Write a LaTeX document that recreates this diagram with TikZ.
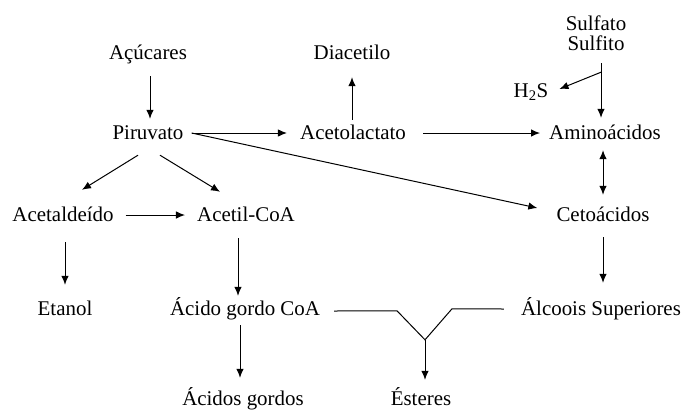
\documentclass[tikz,border=0pt]{standalone}
\usepackage{fontspec}
\setmainfont{Liberation Serif}
\usetikzlibrary{arrows.meta,calc}
\begin{document}
\begin{tikzpicture}[x=1bp,y=-1bp,
  lbl/.style={inner sep=0pt,anchor=base,text height=15bp,text depth=5bp,
    font=\fontsize{21}{24}\selectfont},
  link/.style={line width=1bp},
  arr/.style={link,-{Latex[length=9bp,width=7.5bp]}},
  darr/.style={link,{Latex[length=9bp,width=7.5bp]}-{Latex[length=9bp,width=7.5bp]}}]
\useasboundingbox (0,0) rectangle (683,409);

% metabolites
\node[lbl] (acu)     at (148,59)  {Açúcares};
\node[lbl] (dia)     at (352,59)  {Diacetilo};
\node[lbl] (sulfato) at (596,30)  {Sulfato};
\node[lbl] (sulfito) at (596,50)  {Sulfito};
\node[lbl] (h2s)     at (531,97)  {H\textsubscript{2}S};
\node[lbl] (piru)    at (148,139) {Piruvato};
\node[lbl] (acetol)  at (353,139) {Acetolactato};
\node[lbl] (amino)   at (605,139) {Aminoácidos};
\node[lbl] (acetald) at (63,221)  {Acetaldeído};
\node[lbl] (acetil)  at (246,221) {Acetil-CoA};
\node[lbl] (ceto)    at (603,221) {Cetoácidos};
\node[lbl] (etanol)  at (65,315)  {Etanol};
\node[lbl] (acgco)   at (245,315) {Ácido gordo CoA};
\node[lbl] (alc)     at (601,315) {Álcoois Superiores};
\node[lbl] (acg)     at (243,405) {Ácidos gordos};
\node[lbl] (est)     at (421,405) {Ésteres};

% pathways
\draw[arr] ($(acu.south)+(2,12)$) -- ($(piru.north)+(2,-5)$);
\draw[arr] ($(acetol.north)+(-1,-4)$) -- ($(dia.south)+(0,13)$);
\draw[arr] ($(piru.east)+(8,-1)$) -- ($(acetol.west)+(-13,-1)$);
\draw[arr] ($(acetol.east)+(17,-1)$) -- ($(amino.west)+(-9,-1)$);
\draw[arr] ($(piru.east)+(8,-1)$) -- ($(ceto.west)+(-19,-8)$);
\draw[arr] ($(piru.south)+(-10,11)$) -- ($(acetald.north)+(19,-16)$);
\draw[arr] ($(piru.south)+(12,11)$) -- ($(acetil.north)+(-26,-14)$);
\draw[arr] ($(acetald.east)+(12,-1)$) -- ($(acetil.west)+(-12,-1)$);
\draw[darr] ($(amino.south)+(-2,6)$) -- ($(ceto.north)+(0,-11)$);

% sulphur branch
\coordinate (br) at ($(sulfito.south)+(5,17)$);
\draw[arr] ($(sulfito.south)+(5,8)$) -- ($(amino.north)+(-4,-6)$);
\draw[arr] (br) -- ($(h2s.east)+(11,-3)$);

\draw[arr] ($(acetald.south)+(2,16)$) -- ($(etanol.north)+(0,-15)$);
\draw[arr] ($(acetil.south)+(-8,12)$) -- ($(acgco.north)+(-7,-4)$);
\draw[arr] ($(acgco.south)+(-5,5)$) -- ($(acg.north)+(-3,-12)$);
\draw[arr] ($(ceto.south)+(0,11)$) -- ($(alc.north)+(2,-17)$);

% ester formation
\coordinate (j) at ($(est.north)+(4,-50)$);
\draw[link] ($(acgco.east)+(14,1)$) -- ($(j)+(-28,-29)$) -- (j)
  -- ($(j)+(27,-31)$) -- ($(alc.west)+(-17,-1)$);
\draw[arr] (j) -- ($(est.north)+(4,-10)$);
\end{tikzpicture}
\end{document}
